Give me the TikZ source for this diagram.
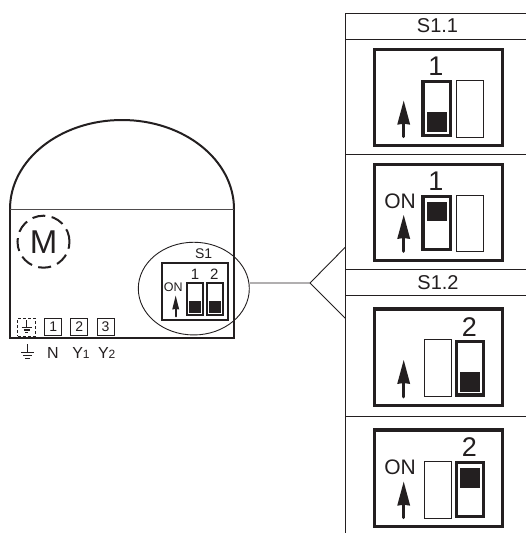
\documentclass[tikz,border=0pt]{standalone}
\usepackage{fontspec}
\usetikzlibrary{shapes.geometric}
\setmainfont{Liberation Sans}
\definecolor{ink}{HTML}{231F20}
\tikzset{
  txt/.style={inner sep=0pt,outer sep=0pt,text=ink},
  thin line/.style={draw=ink,line width=0.9pt},
  frame/.style={draw=ink,line width=3.2pt},
  body/.style={draw=ink,line width=2pt},
  swframe/.style={draw=ink,line width=3.4pt,fill=white},
  swblank/.style={draw=ink,line width=0.9pt,fill=white},
  termbox/.style={draw=ink,line width=0.9pt,minimum width=17pt,minimum height=17pt,inner sep=0pt,text=ink,font=\fontsize{14}{14}\selectfont},
  arrowstem/.style={draw=ink,line width=3.4pt,line cap=round},
  arrowstemsmall/.style={draw=ink,line width=1.7pt,line cap=round}
}
\newcommand{\uparrowbig}[3]{% x, tip y, bottom y
  \draw[arrowstem] (#1,#3-1.5) -- (#1,#2+15);
  \fill[ink] (#1,#2) -- (#1+6.5,#2+24) -- (#1,#2+23) -- (#1-6.5,#2+24) -- cycle;
}
\begin{document}
\begin{tikzpicture}[x=1pt,y=-1pt]
\useasboundingbox (0,0) rectangle (526,533);
\fill[white] (0,0) rectangle (526,533);
% housing
\draw[body] (10,209) arc[start angle=180,end angle=360,x radius=112,y radius=89];
\draw[body] (10,209) -- (10,338.3) -- (234,338.3) -- (234,209);
\draw[draw=ink!80,line width=1pt] (10,209) -- (234,209);
% M
\node[circle,draw=ink,line width=2pt,dash pattern=on 13pt off 6.5pt,minimum size=52pt,inner sep=0pt] (motor) at (43.5,241.7) {};
\node[txt,font=\fontsize{33}{33}\selectfont] (mlabel) at (43.5,241.7) {M};
% terminals
\node[termbox,densely dashed,minimum width=17.5pt,minimum height=18pt] (t0) at (26.4,327) {};
\coordinate (gt) at (26.8,320);
\draw[ink,line width=1pt] (gt) -- ++(0,7);
\draw[ink,line width=1.2pt] (21.5,327.2) -- (32,327.2) (23.5,330) -- (30,330) (25.2,332.6) -- (28.4,332.6);
\node[termbox] (t1) at (53.2,327) {1};
\node[termbox] (t2) at (79.3,327) {2};
\node[termbox] (t3) at (105.5,327) {3};
% ground symbol
\coordinate (g) at (27.7,344);
\draw[ink,line width=1.1pt] (g) -- ++(0,8.7);
\draw[ink,line width=1.3pt] (21,352.7) -- (34.4,352.7) (23.4,355.7) -- (32,355.7) (25.4,358.7) -- (30,358.7);
\node[txt,font=\fontsize{16}{16}\selectfont] (ln) at (53,352.7) {N};
\node[txt,font=\fontsize{16}{16}\selectfont] (ly1) at (81,352.7) {Y\fontsize{12}{12}\selectfont 1};
\node[txt,font=\fontsize{16}{16}\selectfont] (ly2) at (106.7,352.7) {Y\fontsize{12}{12}\selectfont 2};
% small S1
\node[draw=ink,line width=2.4pt,minimum width=66pt,minimum height=57.5pt,inner sep=0pt] (s1box) at (194.8,291.5) {};
\node[txt,font=\fontsize{14}{14}\selectfont] (s1) at (203.7,253.3) {S1};
\node[txt,font=\fontsize{15}{15}\selectfont] (s1a) at (195,274) {1};
\node[txt,font=\fontsize{15}{15}\selectfont] (s1b) at (214.3,274) {2};
\node[txt,font=\fontsize{12.5}{12.5}\selectfont] (s1on) at (173.3,286.7) {ON};
\draw[arrowstemsmall] (175.7,316.5) -- (175.7,304);
\fill[ink] (175.7,295.7) -- (179.2,309.5) -- (175.7,309) -- (172.2,309.5) -- cycle;
\draw[draw=ink,line width=2pt] (187,282.7) rectangle (203,314.5);
\draw[draw=ink,line width=2pt] (207,282.7) rectangle (223,314.5);
\fill[ink] (188.7,300.7) rectangle (201.3,312.7);
\fill[ink] (208.7,300.7) rectangle (221.3,312.7);
\node[ellipse,draw=ink,line width=0.9pt,minimum width=111pt,minimum height=92.7pt,inner sep=0pt] (zoomcircle) at (193.8,288.6) {};
% connector
\coordinate (split) at (310,283);
\coordinate (upper) at (345.5,247);
\coordinate (lower) at (345.5,318.4);
\draw[thin line] (zoomcircle.east |- split) -- (split) -- (upper);
\draw[thin line] (split) -- (lower);
% table
\draw[thin line] (526,13.5) -- (345.5,13.5) -- (345.5,533);
\draw[thin line] (345.5,39) -- (526,39);
\draw[thin line] (345.5,154.5) -- (526,154.5);
\draw[thin line] (345.5,269.7) -- (526,269.7);
\draw[thin line] (345.5,295) -- (526,295);
\draw[thin line] (345.5,416.7) -- (526,416.7);
\node[txt,font=\fontsize{20}{20}\selectfont] (h1) at (437.5,26) {S1.1};
\node[txt,font=\fontsize{20}{20}\selectfont] (h2) at (438,282.5) {S1.2};
% panel A
\draw[frame] (374.3,49.5) rectangle (502.5,145.8);
\node[txt,font=\fontsize{27}{27}\selectfont] (a1) at (436,66.7) {1};
\uparrowbig{403.7}{100.7}{138}
\draw[swframe] (422.9,81.6) rectangle (450.4,135.7);
\fill[ink] (426.7,112) rectangle (446.7,132);
\draw[swblank] (456.7,80.4) rectangle (483.7,137);
% panel B
\draw[frame] (374.3,164.3) rectangle (502.5,260.5);
\node[txt,font=\fontsize{27}{27}\selectfont] (b1) at (436,181.7) {1};
\node[txt,font=\fontsize{21}{21}\selectfont] (bon) at (400,201) {ON};
\uparrowbig{403.7}{215}{252.7}
\draw[swframe] (422.9,196.3) rectangle (450.4,249.7);
\fill[ink] (426.7,202) rectangle (446.7,221.3);
\draw[swblank] (456.7,195) rectangle (483.7,251.3);
% panel C
\draw[frame] (374.3,308.9) rectangle (502.5,405.1);
\node[txt,font=\fontsize{27}{27}\selectfont] (c2) at (469.3,326.7) {2};
\uparrowbig{403.7}{360}{398.3}
\draw[swblank] (424.3,339.9) rectangle (451.7,396.5);
\draw[swframe] (456.6,341.3) rectangle (483.4,395);
\fill[ink] (460,371.7) rectangle (480,391.7);
% panel D
\draw[frame] (374.3,429.9) rectangle (502.5,526.7);
\node[txt,font=\fontsize{27}{27}\selectfont] (d2) at (469.3,447) {2};
\node[txt,font=\fontsize{21}{21}\selectfont] (don) at (400,467) {ON};
\uparrowbig{403.7}{481.7}{519}
\draw[swblank] (424.3,461) rectangle (451.7,518);
\draw[swframe] (456.6,462.6) rectangle (483.4,516.4);
\fill[ink] (460,467.7) rectangle (480,487.7);
\end{tikzpicture}
\end{document}
